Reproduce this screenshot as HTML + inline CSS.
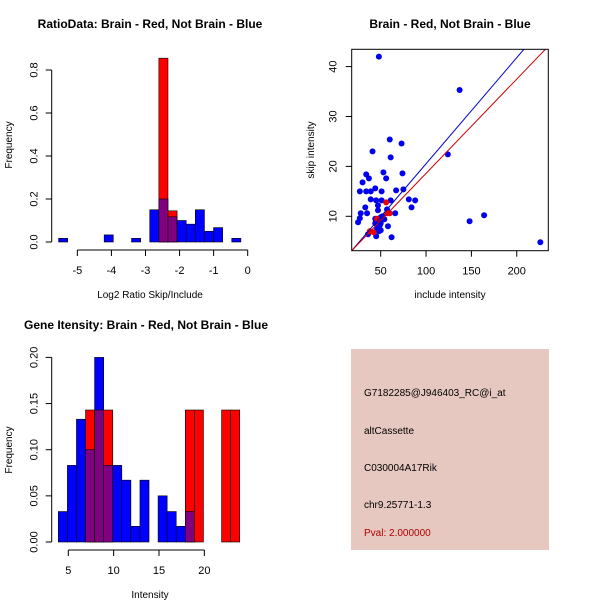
<!DOCTYPE html>
<html><head><meta charset="utf-8"><style>body{margin:0;background:#fff}svg{display:block;font-family:"Liberation Sans",sans-serif}</style></head>
<body>
<svg id="c" width="600" height="600" xmlns="http://www.w3.org/2000/svg">
<text x="150" y="28" font-size="12" font-weight="bold" text-anchor="middle">RatioData: Brain - Red, Not Brain - Blue</text>
<text x="450" y="28" font-size="12" font-weight="bold" text-anchor="middle">Brain - Red, Not Brain - Blue</text>
<text x="146" y="329" font-size="12" font-weight="bold" text-anchor="middle">Gene Itensity: Brain - Red, Not Brain - Blue</text>
<text x="150" y="298" font-size="10" text-anchor="middle">Log2 Ratio Skip/Include</text>
<text x="450" y="298" font-size="10" text-anchor="middle">include intensity</text>
<text x="150" y="598" font-size="10" text-anchor="middle">Intensity</text>
<text transform="translate(12,145) rotate(-90)" font-size="10" text-anchor="middle">Frequency</text>
<text transform="translate(314,150) rotate(-90)" font-size="10" text-anchor="middle">skip intensity</text>
<text transform="translate(12,450) rotate(-90)" font-size="10" text-anchor="middle">Frequency</text>
<g>
<rect x="351" y="349" width="198" height="201" fill="#E6C8C0"/>
<text x="364" y="396" font-size="10">G7182285@J946403_RC@i_at</text>
<text x="364" y="434" font-size="10">altCassette</text>
<text x="364" y="471" font-size="10">C030004A17Rik</text>
<text x="364" y="508" font-size="10">chr9.25771-1.3</text>
<text x="364" y="536" font-size="10" fill="#B00000">Pval: 2.000000</text>
</g>
</svg>
<script>
// Ratio histogram data
const ratioStart = -5.55, ratioWidth = 0.2675;
const ratioBlue = [0.017,0,0,0,0,0.033,0,0,0.017,0,0.15,0.2,0.117,0.1,0.083,0.15,0.05,0.067,0,0.017];
const ratioRed  = [0,0,0,0,0,0,0,0,0,0,0,0.855,0.145,0,0,0,0,0,0,0];
const ratioXTicks = [-5,-4,-3,-2,-1,0];
const ratioYTicks = [0,0.2,0.4,0.6,0.8];
// Intensity histogram data
const intStart = 3.9, intWidth = 1;
const intBlue = [0.033,0.083,0.133,0.1,0.2,0.083,0.083,0.067,0.017,0.067,0,0.05,0.033,0.017,0.033,0,0,0,0,0];
const intRed  = [0,0,0,0.143,0.143,0.143,0,0,0,0,0,0,0,0,0.143,0.143,0,0,0.143,0.143];
const intXTicks = [5,10,15,20];
const intYTicks = [0,0.05,0.10,0.15,0.20];
const intYLabels = ["0.00","0.05","0.10","0.15","0.20"];
// Scatter data
const blueX = [48,137,124,148,164,226,60,73,41,61,74,53,34,37,56,30,44,27,34,39,51,67,75,45,39,51,61,81,88,33,47,84,47,28,35,66,52,27,25,44,48,54,44,49,58,46,50,48,36,45,62,50,57,45,50];
const blueY = [42,35.3,22.4,9,10.2,4.8,25.4,24.6,23,21.8,18.6,18.8,18.4,17.6,17.6,16.8,15.6,15,15,15,15,15.2,15.4,13.2,13.4,13.2,13.2,13.4,13.2,11.8,12.2,11.8,11.2,10.6,10.6,10.6,10,9.6,8.8,9.5,9.4,9.4,8.6,8.2,8,7.6,7.2,7,6.4,6,5.8,9.8,11.4,9,8.6];
const redX = [38,42,56,57,60,46];
const redY = [7,6.8,12.8,10.6,10.6,9.5];
const blueLine = [-0.73,0.2126]; // intercept, slope
const redLine = [-0.3,0.189];
const scXTicks = [50,100,150,200];
const scYTicks = [10,20,30,40];

const svg = document.getElementById('c');
const NS = 'http://www.w3.org/2000/svg';
function mk(tag, at, name){const e=document.createElementNS(NS,tag);for(const k in at)e.setAttribute(k,at[k]);


svg.appendChild(e);return e;}

function hist(pre, start, w, blue, red, sx, sy, x0, xAxisY, xt, yt, yl){
  for(let i=0;i<blue.length;i++){
    const a=start+i*w, b=a+w, bv=blue[i], rv=red[i];
    const x=sx(a), wd=sx(b)-sx(a);
    const bar=(v,fill,nm)=>{ if(v>0) mk('rect',{x:x,y:sy(v),width:wd,height:sy(0)-sy(v),fill:fill,stroke:'#000','stroke-width':0.6},nm); };
    if(bv>=rv){ bar(bv,'#0000FF',pre+'-blue-bar'); bar(rv,'#800080',pre+'-overlap-bar'); }
    else { bar(rv,'#FF0000',pre+'-red-bar'); bar(bv,'#800080',pre+'-overlap-bar'); }
  }
  mk('line',{x1:x0,x2:x0,y1:sy(yt[0]),y2:sy(yt[yt.length-1]),stroke:'#000'},pre+'-y-axis');
  yt.forEach((v,i)=>{mk('line',{x1:x0-6,x2:x0,y1:sy(v),y2:sy(v),stroke:'#000'},pre+'-y-tick');
    const t=mk('text',{transform:`translate(${x0-14},${sy(v)}) rotate(-90)`,'font-size':11,'text-anchor':'middle'},pre+'-y-tick-label');t.textContent=yl?yl[i]:v.toFixed(1);});
  mk('line',{x1:sx(xt[0]),x2:sx(xt[xt.length-1]),y1:xAxisY,y2:xAxisY,stroke:'#000'},pre+'-x-axis');
  xt.forEach(v=>{mk('line',{x1:sx(v),x2:sx(v),y1:xAxisY,y2:xAxisY+6,stroke:'#000'},pre+'-x-tick');
    const t=mk('text',{x:sx(v),y:xAxisY+24,'font-size':11,'text-anchor':'middle'},pre+'-x-tick-label');t.textContent=v;});
}
hist('ratio',ratioStart,ratioWidth,ratioBlue,ratioRed,v=>247.7+v*34.07,v=>242-v*215,51.7,250,ratioXTicks,ratioYTicks);
hist('intensity',intStart,intWidth,intBlue,intRed,v=>68.3+(v-5)*9.07,v=>542-v*923,51.7,550,intXTicks,intYTicks,intYLabels);

// scatter
const L=351.7,R=548.3,T=49.3,B=250.7;
const sx=v=>380.7+(v-50)*0.907, sy=v=>216.3-(v-10)*4.99;
const cp=mk('clipPath',{id:'clp'},'scatter-clip');
const cr=document.createElementNS(NS,'rect');cr.setAttribute('x',L);cr.setAttribute('y',T);cr.setAttribute('width',R-L);cr.setAttribute('height',B-T);cp.appendChild(cr);
blueX.forEach((x,i)=>mk('circle',{cx:sx(x),cy:sy(blueY[i]),r:3,fill:'#0000EE','clip-path':'url(#clp)'},'blue-point'));
redX.forEach((x,i)=>mk('circle',{cx:sx(x),cy:sy(redY[i]),r:3,fill:'#EE0000'},'red-point'));
[[blueLine,'#0000CC','blue-fit-line'],[redLine,'#CC0000','red-fit-line']].forEach(([l,c,n])=>{
  const x1=0,x2=260;mk('line',{x1:sx(x1),y1:sy(l[0]+l[1]*x1),x2:sx(x2),y2:sy(l[0]+l[1]*x2),stroke:c,'stroke-width':1,'clip-path':'url(#clp)'},n);});
mk('rect',{x:L,y:T,width:R-L,height:B-T,fill:'none',stroke:'#000'},'scatter-frame');
scXTicks.forEach(v=>{mk('line',{x1:sx(v),x2:sx(v),y1:B,y2:B+6,stroke:'#000'},'scatter-x-tick');
  const t=mk('text',{x:sx(v),y:B+24,'font-size':11,'text-anchor':'middle'},'scatter-x-tick-label');t.textContent=v;});
scYTicks.forEach(v=>{mk('line',{x1:L-6,x2:L,y1:sy(v),y2:sy(v),stroke:'#000'},'scatter-y-tick');
  const t=mk('text',{transform:`translate(${L-15},${sy(v)}) rotate(-90)`,'font-size':11,'text-anchor':'middle'},'scatter-y-tick-label');t.textContent=v;});
</script>
</body></html>
